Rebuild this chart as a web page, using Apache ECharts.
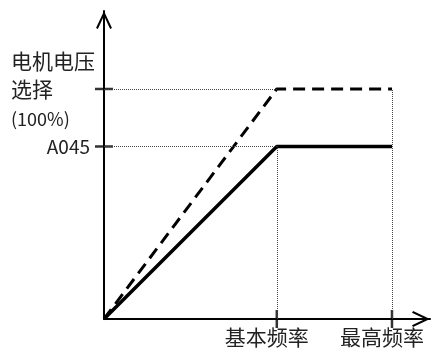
<!DOCTYPE html>
<html>
<head>
<meta charset="utf-8">
<script src="https://cdn.jsdelivr.net/npm/echarts@6/dist/echarts.min.js"></script>
<style>html,body{margin:0;padding:0;background:#fff;}#c{width:431px;height:351px;}</style>
</head>
<body>
<div id="c"></div>
<script>
// ---- data ----
const freqTicks = [60, 100];
const freqLabels = ['基本频率', '最高频率'];
const voltTicks = [75, 100];
const voltLabels = ['A045', '电机电压\n选择\n(100%)'];
const dashedFreq = [0, 60, 100];
const dashedVolt = [0, 100, 100];
const solidFreq = [0, 60, 100];
const solidVolt = [0, 75, 75];
const xMax = 113.2;
const yMax = 133.9;

const FONT = "'Noto Sans CJK SC', 'Noto Sans CJK JP', sans-serif";
const TXT = '#222';
const arrowPath = 'path://M7.5 0 L15 16 L13.3 17 L7.5 4.6 L1.7 17 L0 16 Z';

const zip = (a, b) => a.map((v, i) => [v, b[i]]);

// guide lines built from the tick arrays
const guides = [];
voltTicks.forEach(v => guides.push([{ coord: [0, v] }, { coord: [freqTicks[0], v] }]));
guides.push([{ coord: [freqTicks[0], 0] }, { coord: [freqTicks[0], voltTicks[0]] }]);
guides.push([{ coord: [freqTicks[1], 0] }, { coord: [freqTicks[1], voltTicks[1]] }]);

const chart = echarts.init(document.getElementById('c'), null, { renderer: 'canvas' });
chart.setOption({
  animation: false,
  backgroundColor: '#fff',
  textStyle: { fontFamily: FONT },
  grid: { left: 104, right: 1, top: 11, bottom: 32, containLabel: false },
  xAxis: {
    type: 'value', min: 0, max: xMax,
    splitLine: { show: false },
    axisLine: { show: true, lineStyle: { color: '#000', width: 2 },
      symbol: ['none', arrowPath], symbolSize: [16, 18], symbolOffset: [0, -9] },
    axisTick: { show: false },
    axisLabel: {
      customValues: freqTicks,
      formatter: v => freqLabels[freqTicks.indexOf(v)] || '',
      fontSize: 21, fontFamily: FONT, color: TXT, margin: 8,
      padding: [0, 20, 0, 0]
    }
  },
  yAxis: {
    type: 'value', min: 0, max: yMax,
    splitLine: { show: false },
    axisLine: { show: true, lineStyle: { color: '#000', width: 2 },
      symbol: ['none', arrowPath], symbolSize: [16, 18], symbolOffset: [0, -9] },
    axisTick: { show: false },
    axisLabel: {
      customValues: voltTicks,
      margin: 7, align: 'right', color: TXT, fontFamily: FONT,
      formatter: v => {
        const t = voltLabels[voltTicks.indexOf(v)] || '';
        if (t.indexOf('\n') < 0) return '{a|' + t + '}{s|}';
        const parts = t.split('\n');
        return parts.map((p, i) => (i === parts.length - 1 ? '{p|' : '{t|') + p + '}').join('\n');
      },
      rich: {
        a: { fontSize: 19, fontFamily: FONT, color: TXT },
        s: { width: 7 },
        t: { fontSize: 21, fontFamily: FONT, color: TXT, width: 86, align: 'left', lineHeight: 28 },
        p: { fontSize: 18, fontFamily: FONT, color: TXT, width: 86, align: 'left', lineHeight: 28, padding: [4, 0, 0, 0] }
      }
    }
  },
  series: [
    {
      name: 'guides', type: 'line', data: [], silent: true,
      markLine: { silent: true, symbol: ['none', 'none'], label: { show: false },
        lineStyle: { type: 'dotted', color: '#444', width: 1 }, data: guides }
    },
    {
      name: 'xticks', type: 'scatter', clip: false, silent: true,
      symbol: 'rect', symbolSize: [2.5, 18], itemStyle: { color: '#000' },
      data: freqTicks.map(f => [f, 0])
    },
    {
      name: 'yticks', type: 'scatter', clip: false, silent: true,
      symbol: 'rect', symbolSize: [18, 2.5], itemStyle: { color: '#000' },
      data: voltTicks.map(v => [0, v])
    },
    {
      name: 'dashed', type: 'line', showSymbol: false, symbol: 'none',
      lineStyle: { color: '#000', width: 3, type: [12, 7] },
      data: zip(dashedFreq, dashedVolt)
    },
    {
      name: 'solid', type: 'line', showSymbol: false, symbol: 'none',
      lineStyle: { color: '#000', width: 3.5 },
      data: zip(solidFreq, solidVolt)
    }
  ]
});
</script>
</body>
</html>
